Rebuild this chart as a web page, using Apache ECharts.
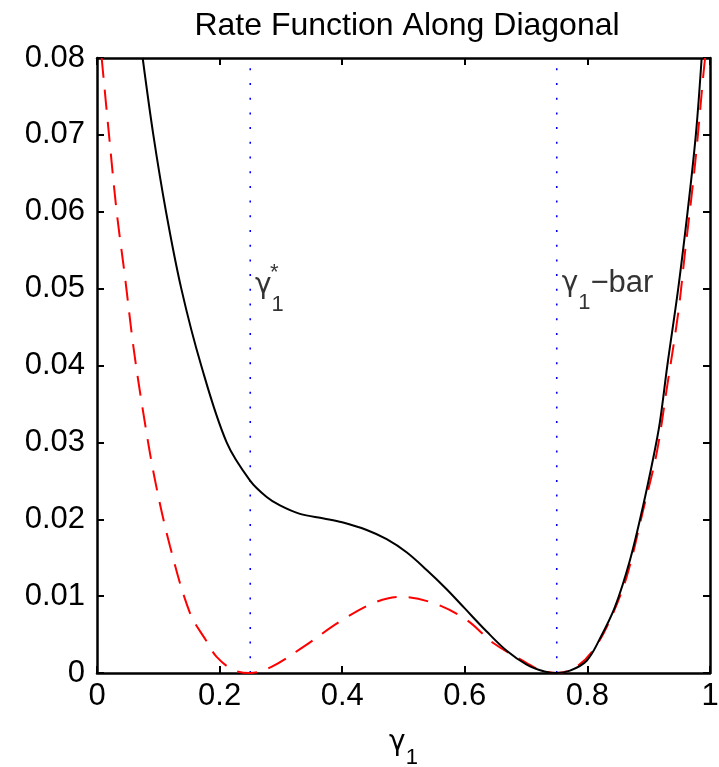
<!DOCTYPE html>
<html><head><meta charset="utf-8">
<script src="https://cdn.jsdelivr.net/npm/echarts@6/dist/echarts.min.js"></script>
<style>html,body{margin:0;padding:0;background:#fff}#c{width:719px;height:767px}</style>
</head><body><div id="c"></div>
<script>
// solid black curve
const gammaSolid = [0.0745,0.0919,0.1126,0.1375,0.170,0.2115,0.25,0.2768,0.2985,0.3311,0.370,0.400,0.440,0.4726,0.505,0.5378,0.5704,0.600,0.6357,0.6683,0.701,0.73,0.75,0.7716,0.7988,0.8206,0.845,0.8695,0.891,0.9075,0.918,0.9304,0.9483,0.9636,0.977,0.9864];
const rateSolid  = [0.0800,0.0700,0.0600,0.0500,0.0400,0.0300,0.0250,0.0229,0.0218,0.0207,0.0201,0.0196,0.0186,0.0174,0.0157,0.0134,0.0109,0.0084,0.0054,0.0029,0.0011,0.0002,0.0000,0.0003,0.0016,0.0045,0.0086,0.0147,0.0218,0.0280,0.0325,0.0400,0.0501,0.0601,0.0701,0.0800];
// dashed red curve
const gammaDashed = [0.0076,0.0196,0.0321,0.0457,0.0593,0.0756,0.0946,0.1191,0.1517,0.179,0.1952,0.2224,0.25,0.2846,0.3366,0.3964,0.4508,0.4943,0.5487,0.603,0.6465,0.701,0.72,0.75,0.78,0.8097,0.8369,0.864,0.891,0.913,0.9293,0.9483,0.9592,0.970,0.978,0.989,0.992];
const rateDashed  = [0.0800,0.0700,0.0600,0.0515,0.0425,0.0338,0.0251,0.0165,0.0078,0.0041,0.0021,0.0004,0.0000,0.0008,0.0034,0.0067,0.0091,0.0099,0.0091,0.0069,0.0039,0.0013,0.0005,0.0000,0.0007,0.0030,0.0069,0.0125,0.0212,0.0286,0.0369,0.0469,0.0547,0.0621,0.0681,0.0777,0.0800];
// vertical dotted markers
const markerGamma = [0.25, 0.75];
// tick labels
const xTickValues = [0,0.2,0.4,0.6,0.8,1];
const xTickLabels = ['0','0.2','0.4','0.6','0.8','1'];
const yTickValues = [0,0.01,0.02,0.03,0.04,0.05,0.06,0.07,0.08];
const yTickLabels = ['0','0.01','0.02','0.03','0.04','0.05','0.06','0.07','0.08'];
// annotations (anchor in data units)
const annotGamma = [0.2577, 0.758];
const annotRate  = [0.05225, 0.0520];
const annotText  = ['{sp|*}\n{g|γ}{s|1}', '{g|γ}{s|1}{t|\u2212bar}'];

const FONT = "'Liberation Sans', Arial, Helvetica, sans-serif";
const GFONT = "'DejaVu Sans', sans-serif";
const zip = (a, b) => a.map((v, i) => [v, b[i]]);
const xMin = xTickValues[0], xMax = xTickValues[xTickValues.length-1];
const yMin = yTickValues[0], yMax = yTickValues[yTickValues.length-1];
const xInt = xTickValues[1]-xTickValues[0], yInt = yTickValues[1]-yTickValues[0];
const lbl = (vals, labels) => v => { let i = vals.findIndex(t => Math.abs(t - v) < 1e-9); return i >= 0 ? labels[i] : ''; };

const richGamma = {
  sp: {fontSize: 22, lineHeight: 4, padding: [0,0,0,15], fontFamily: FONT, color: '#000'},
  g: {fontSize: 28, lineHeight: 20, fontFamily: GFONT, color: '#000'},
  s: {fontSize: 22, lineHeight: 20, padding: [40,0,0,0], fontFamily: FONT, color: '#000'},
  t: {fontSize: 31, lineHeight: 20, fontFamily: FONT, color: '#000'}
};

const axisCommon = {
  axisLine: {show: true, onZero: false, lineStyle: {color: '#000', width: 2.5}},
  axisTick: {show: true, inside: true, length: 7, lineStyle: {color: '#000', width: 2}},
  splitLine: {show: false}
};

const series = [
  {type: 'line', data: zip(gammaDashed, rateDashed), smooth: 0.35, symbol: 'none', clip: true,
   lineStyle: {color: '#ff0000', width: 2, type: [20, 12]}, z: 3},
  {type: 'line', data: zip(gammaSolid, rateSolid), smooth: 0.35, symbol: 'none', clip: true,
   lineStyle: {color: '#000', width: 2}, z: 4}
];
markerGamma.forEach(g => series.push({
  type: 'line', data: [[g, yMin], [g, yMax]], symbol: 'none',
  lineStyle: {color: '#0000ff', width: 1.6, type: [2, 12.7]}, z: 2
}));
series.push({
  type: 'scatter', symbolSize: 0, itemStyle: {color: 'transparent'},
  data: annotGamma.map((g, i) => ({value: [g, annotRate[i]], name: annotText[i]})),
  label: {show: true, position: [0, 0], align: 'left', verticalAlign: 'top',
          formatter: p => p.name, rich: richGamma}, z: 5, silent: true
});

const chart = echarts.init(document.getElementById('c'), null, {renderer: 'canvas'});
chart.setOption({
  animation: false,
  backgroundColor: '#fff',
  title: {text: 'Rate Function Along Diagonal', left: 402, top: 5, textAlign: 'center',
          textStyle: {fontFamily: FONT, fontSize: 32, fontWeight: 'normal', color: '#000'}},
  grid: {left: 97, right: 9, top: 58, bottom: 94, containLabel: false, outerBoundsMode: 'none'},
  xAxis: [
    Object.assign({type: 'value', min: xMin, max: xMax, interval: xInt, position: 'bottom',
      axisLabel: {color: '#000', fontSize: 31, fontFamily: FONT, margin: 8, formatter: lbl(xTickValues, xTickLabels)},
      name: '{g|γ}{s|1}', nameLocation: 'middle', nameGap: 57,
      nameTextStyle: {rich: {g: {fontSize: 28, lineHeight: 20, fontFamily: GFONT, color: '#000'},
                             s: {fontSize: 22, lineHeight: 20, padding: [30,0,0,0], fontFamily: FONT, color: '#000'}}}
    }, axisCommon),
    Object.assign({type: 'value', min: xMin, max: xMax, interval: xInt, position: 'top',
      axisLabel: {show: false}}, axisCommon)
  ],
  yAxis: [
    Object.assign({type: 'value', min: yMin, max: yMax, interval: yInt, position: 'left',
      axisLabel: {color: '#000', fontSize: 31, fontFamily: FONT, margin: 12, formatter: lbl(yTickValues, yTickLabels)}}, axisCommon),
    Object.assign({type: 'value', min: yMin, max: yMax, interval: yInt, position: 'right',
      axisLabel: {show: false}}, axisCommon)
  ],
  series: series
});
</script>
</body></html>
